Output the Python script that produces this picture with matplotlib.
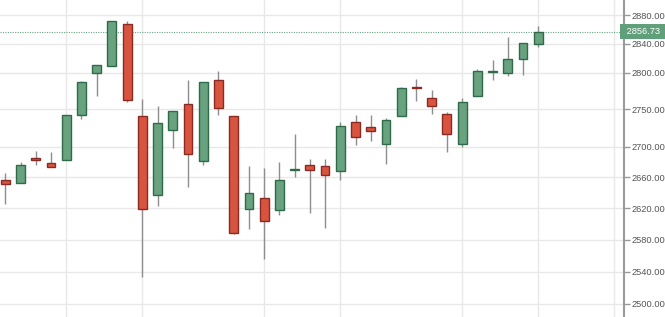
import matplotlib
matplotlib.use('Agg')
import matplotlib.pyplot as plt
import matplotlib.transforms as mtransforms
from matplotlib.ticker import FixedLocator, FuncFormatter, NullLocator, NullFormatter

# ---- data ----
opens  = [2656.5, 2652.2, 2685.7, 2678.7, 2683.0, 2743.0, 2799.0, 2808.6, 2867.4, 2740.7,
          2636.7, 2722.4, 2757.7, 2681.0, 2790.0, 2741.5, 2619.4, 2633.6, 2617.4, 2669.2,
          2675.7, 2674.4, 2668.7, 2732.7, 2726.4, 2704.2, 2741.0, 2780.3, 2765.8, 2743.4,
          2704.2, 2767.7, 2800.8, 2799.0, 2818.7, 2840.0]
highs  = [2666.0, 2680.0, 2694.5, 2692.8, 2743.0, 2788.5, 2810.0, 2872.0, 2871.2, 2764.0,
          2754.5, 2747.4, 2790.0, 2786.7, 2802.2, 2741.5, 2674.8, 2672.6, 2680.0, 2717.1,
          2683.6, 2683.6, 2733.1, 2742.5, 2742.5, 2738.0, 2780.7, 2791.2, 2775.8, 2746.1,
          2765.4, 2804.5, 2817.3, 2849.2, 2840.5, 2864.6]
lows   = [2625.5, 2652.2, 2676.1, 2673.0, 2683.0, 2736.7, 2768.5, 2808.6, 2760.4, 2533.6,
          2623.3, 2698.1, 2647.0, 2676.1, 2742.5, 2586.8, 2593.1, 2555.3, 2611.4, 2660.8,
          2613.6, 2595.2, 2656.1, 2702.8, 2707.3, 2677.4, 2740.5, 2761.7, 2743.4, 2692.8,
          2699.8, 2767.7, 2789.4, 2795.3, 2796.3, 2835.7]
closes = [2650.9, 2675.7, 2682.7, 2673.1, 2742.9, 2786.7, 2810.0, 2872.0, 2762.3, 2619.0,
          2731.3, 2747.4, 2691.0, 2786.7, 2751.9, 2588.1, 2640.0, 2604.1, 2656.5, 2670.5,
          2670.0, 2663.4, 2727.3, 2712.7, 2721.0, 2735.3, 2779.0, 2779.3, 2754.1, 2717.4,
          2760.4, 2801.8, 2802.2, 2819.1, 2840.5, 2856.73]
last_price = 2856.73
y_ticks = [2500, 2540, 2580, 2620, 2660, 2700, 2750, 2800, 2840, 2880]
vgrid_idx = [4, 9, 17, 22, 30, 35, 40]

# ---- style ----
GREEN_FILL, GREEN_EDGE = '#68a27f', '#2f6b48'
RED_FILL, RED_EDGE = '#d9543f', '#8a2a22'
WICK = '#8e8e8e'
GRID = '#e8e8e8'
plt.rcParams['font.family'] = ['Liberation Sans', 'DejaVu Sans']

fig = plt.figure(figsize=(6.65, 3.17), dpi=100)
ax = fig.add_axes([0, 0, 623.5 / 665, 1])
ax.set_yscale('log')

xs = list(range(len(opens)))
ax.vlines(xs, lows, highs, color=WICK, lw=1.0, zorder=2)

bottoms = [min(o, c) for o, c in zip(opens, closes)]
heights = [max(abs(c - o), 0.4) for o, c in zip(opens, closes)]
fills = [GREEN_FILL if c >= o else RED_FILL for o, c in zip(opens, closes)]
edges = [GREEN_EDGE if c >= o else RED_EDGE for o, c in zip(opens, closes)]
ax.bar(xs, heights, bottom=bottoms, width=0.58, color=fills, edgecolor=edges,
       linewidth=1.0, zorder=3)

ax.axhline(last_price, color='#6aa583', lw=0.8, ls=(0, (1, 1.2)), zorder=1)

ax.set_xlim(-0.35, 40.6)
ax.set_ylim(2484.1, 2901.3)

# y axis on the right
ax.yaxis.set_major_locator(FixedLocator(y_ticks))
ax.yaxis.set_major_formatter(FuncFormatter(lambda v, p: f'{v:.2f}'))
ax.yaxis.set_minor_locator(NullLocator())
ax.yaxis.set_minor_formatter(NullFormatter())
ax.yaxis.tick_right()
ax.tick_params(axis='y', which='major', length=4, width=1, color='#999999',
               labelsize=6.7, labelcolor='#555555', pad=2)

ax.set_xticks(vgrid_idx)
ax.tick_params(axis='x', length=0, labelbottom=False)

ax.grid(True, color=GRID, lw=1.0, zorder=0)
ax.set_axisbelow(True)

for s in ['top', 'left', 'bottom']:
    ax.spines[s].set_visible(False)
ax.spines['right'].set_color('#9a9a9a')
ax.spines['right'].set_linewidth(1.5)

trans = mtransforms.blended_transform_factory(ax.transAxes, ax.transData)
ax.text(1.0, last_price, ' 2856.73 ', transform=trans, ha='left', va='center',
        fontsize=6.7, color='white', clip_on=False, zorder=5,
        bbox=dict(boxstyle='square,pad=0.35', facecolor='#5fa07b', edgecolor='none'))

fig.savefig('out.png', dpi=100)
